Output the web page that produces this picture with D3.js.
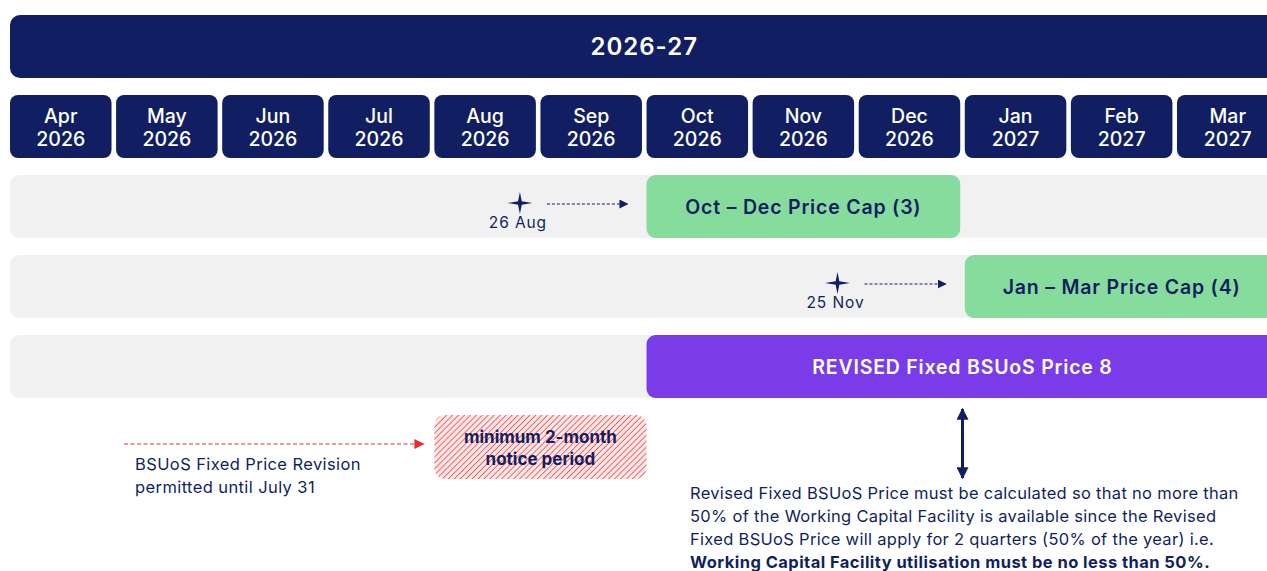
<!DOCTYPE html>
<html><head><meta charset="utf-8">
<script src="https://cdn.jsdelivr.net/npm/d3@7"></script>
<style>
body{margin:0;background:#fff;overflow:hidden}
svg{display:block;font-family:Inter,"Noto Sans",sans-serif}
</style>
</head><body>
<svg id="c" width="1267" height="571"></svg>
<script>
// ---------- data ----------
const fiscalYear = "2026-27";
const months = ["Apr","May","Jun","Jul","Aug","Sep","Oct","Nov","Dec","Jan","Feb","Mar"];
const monthYears = ["2026","2026","2026","2026","2026","2026","2026","2026","2026","2027","2027","2027"];
const monthDays = [30,31,30,31,31,30,31,30,31,31,28,31];

const rowLabels = ["Oct – Dec Price Cap (3)", "Jan – Mar Price Cap (4)", "REVISED Fixed BSUoS Price 8"];
const rowStartMonth = [6, 9, 6];
const rowEndMonth = [9, 12, 12];
const rowKinds = ["cap", "cap", "bsuos"];

const milestoneLabels = ["26 Aug", "25 Nov"];
const milestoneRow = [0, 1];
const milestoneMonth = [4, 7];
const milestoneDay = [26, 25];

const revisionDeadlineMonth = 4; // up to end of July
const revisionText = ["BSUoS Fixed Price Revision", "permitted until July 31"];
const noticeStartMonth = 4, noticeEndMonth = 6;
const noticeText = ["minimum 2-month", "notice period"];

const noteLines = [
  {t:"Revised Fixed BSUoS Price must be calculated so that no more than", b:false},
  {t:"50% of the Working Capital Facility is available since the Revised", b:false},
  {t:"Fixed BSUoS Price will apply for 2 quarters (50% of the year) i.e.", b:false},
  {t:"Working Capital Facility utilisation must be no less than 50%.", b:true}
];

// ---------- styles ----------
const NAVY = "#111f62", GREEN = "#86dc9c", PURPLE = "#7a3be8", GRAY = "#f1f1f1", RED = "#ea2a2a";

const svg = d3.select("#c");
const defs = svg.append("defs");

function marker(id, color, w, h) {
  defs.append("marker").attr("id", id).attr("viewBox", "0 0 10 10")
    .attr("refX", 9).attr("refY", 5).attr("markerUnits", "userSpaceOnUse")
    .attr("markerWidth", w).attr("markerHeight", h).attr("orient", "auto-start-reverse")
    .append("path").attr("d", "M0,0L10,5L0,10Z").attr("fill", color);
}
marker("arrNavy", NAVY, 9, 9);
marker("arrRed", RED, 10, 10);
marker("arrBig", NAVY, 13, 12);

const pat = defs.append("pattern").attr("id", "hatch").attr("patternUnits", "userSpaceOnUse")
  .attr("width", 4.2).attr("height", 4.2).attr("patternTransform", "rotate(45)");
pat.append("rect").attr("width", 4.2).attr("height", 4.2).attr("fill", "#fde6e6");
pat.append("line").attr("x1", 0).attr("y1", 0).attr("x2", 0).attr("y2", 4.2)
  .attr("stroke", "#f04a4a").attr("stroke-width", 1.6);

// ---------- scales ----------
const band = d3.scaleBand().domain(months).range([10, 1278.5]).paddingInner(0.043).paddingOuter(0);
const step = band.step(), gap = step - band.bandwidth();
const xm = d3.scaleLinear().domain([0, 12]).range([10, 10 + 12 * step]); // month-index position
const xDate = (m, d) => xm(m + (d - 1) / monthDays[m]);

const rowY = d3.scaleBand().domain(d3.range(rowLabels.length)).range([175, 398]).paddingInner(17 / 80).paddingOuter(0);

// ---------- year header ----------
svg.append("rect").attr("x", xm(0)).attr("y", 15).attr("width", xm(12) - gap - xm(0)).attr("height", 63)
  .attr("rx", 10).attr("fill", NAVY);
svg.append("text").attr("x", (xm(0) + xm(12) - gap) / 2).attr("y", 55).attr("text-anchor", "middle")
  .attr("fill", "#fff").attr("font-size", 24).attr("font-weight", 600).attr("letter-spacing", 1).text(fiscalYear);

// ---------- month tiles ----------
const mg = svg.selectAll("g.month").data(months).join("g").attr("class", "month")
  .attr("transform", d => `translate(${band(d)},95)`);
mg.append("rect").attr("width", band.bandwidth()).attr("height", 63).attr("rx", 8).attr("fill", NAVY);
mg.append("text").attr("x", band.bandwidth() / 2).attr("y", 28).attr("text-anchor", "middle")
  .attr("fill", "#fff").attr("font-size", 19.5).attr("font-weight", 500).text(d => d);
mg.append("text").attr("x", band.bandwidth() / 2).attr("y", 50.5).attr("text-anchor", "middle")
  .attr("fill", "#fff").attr("font-size", 19.5).attr("font-weight", 500).text((d, i) => monthYears[i]);

// ---------- rows ----------
const rows = rowLabels.map((l, i) => ({l, i, s: rowStartMonth[i], e: rowEndMonth[i], k: rowKinds[i]}));
svg.selectAll("rect.bg").data(rows).join("rect").attr("class", "bg")
  .attr("x", xm(0)).attr("y", d => rowY(d.i)).attr("width", 1300).attr("height", rowY.bandwidth())
  .attr("rx", 9).attr("fill", GRAY);
svg.selectAll("rect.bar").data(rows).join("rect").attr("class", "bar")
  .attr("x", d => xm(d.s)).attr("y", d => rowY(d.i))
  .attr("width", d => xm(d.e) - gap - xm(d.s)).attr("height", rowY.bandwidth())
  .attr("rx", 9).attr("fill", d => d.k === "cap" ? GREEN : PURPLE);
svg.selectAll("text.bar").data(rows).join("text").attr("class", "bar")
  .attr("x", d => (xm(d.s) + xm(d.e) - gap) / 2).attr("y", d => rowY(d.i) + rowY.bandwidth() / 2 + 7)
  .attr("text-anchor", "middle").attr("font-size", 19.5).attr("font-weight", 600).attr("letter-spacing", 0.8)
  .attr("fill", d => d.k === "cap" ? NAVY : "#fff").text(d => d.l);

// ---------- milestones ----------
const starPts = [];
for (let k = 0; k < 8; k++) {
  const a = k * Math.PI / 4;
  const outer = k % 2 === 0;
  const rx = outer ? 12.5 : 2.6, ry = outer ? 11 : 2.6;
  starPts.push([Math.sin(a) * rx, -Math.cos(a) * ry]);
}
const starPath = d3.line().curve(d3.curveLinearClosed)(starPts);

const ms = milestoneLabels.map((l, i) => ({l, r: milestoneRow[i], x: xDate(milestoneMonth[i], milestoneDay[i])}));
const mgs = svg.selectAll("g.ms").data(ms).join("g").attr("class", "ms")
  .attr("transform", d => `translate(${d.x},${rowY(d.r) + 28})`);
mgs.append("path").attr("d", starPath).attr("fill", NAVY);
mgs.append("text").attr("x", -2).attr("y", 25).attr("text-anchor", "middle").attr("font-size", 15.5)
  .attr("letter-spacing", 0.9).attr("fill", NAVY).text(d => d.l);
mgs.append("line").attr("x1", 27).attr("y1", 1).attr("x2", d => xm(rowStartMonth[d.r]) - 19 - d.x).attr("y2", 1)
  .attr("stroke", NAVY).attr("stroke-width", 1.2).attr("stroke-dasharray", "3,2")
  .attr("marker-end", "url(#arrNavy)");

// ---------- revision deadline ----------
svg.append("line").attr("x1", 124).attr("y1", 444).attr("x2", xm(revisionDeadlineMonth) - 11).attr("y2", 444)
  .attr("stroke", RED).attr("stroke-width", 1.2).attr("stroke-dasharray", "4,2.5")
  .attr("marker-end", "url(#arrRed)");
svg.selectAll("text.rev").data(revisionText).join("text").attr("class", "rev")
  .attr("x", 135).attr("y", (d, i) => 470 + i * 23).attr("font-size", 16.5).attr("letter-spacing", 0.4)
  .attr("fill", NAVY).text(d => d);

// ---------- notice period ----------
svg.append("rect").attr("x", xm(noticeStartMonth)).attr("y", 415)
  .attr("width", xm(noticeEndMonth) - xm(noticeStartMonth)).attr("height", 64)
  .attr("rx", 11).attr("fill", "url(#hatch)");
svg.selectAll("text.notice").data(noticeText).join("text").attr("class", "notice")
  .attr("x", (xm(noticeStartMonth) + xm(noticeEndMonth)) / 2).attr("y", (d, i) => 443 + i * 22)
  .attr("text-anchor", "middle").attr("font-size", 17).attr("font-weight", 700)
  .attr("fill", NAVY).text(d => d);

// ---------- vertical double arrow ----------
const purple = rows[2];
const ax = (xm(purple.s) + xm(purple.e) - gap) / 2;
svg.append("line").attr("x1", ax).attr("y1", 409).attr("x2", ax).attr("y2", 478)
  .attr("stroke", NAVY).attr("stroke-width", 3)
  .attr("marker-start", "url(#arrBig)").attr("marker-end", "url(#arrBig)");

// ---------- note ----------
svg.selectAll("text.note").data(noteLines).join("text").attr("class", "note")
  .attr("x", 690).attr("y", (d, i) => 499 + i * 23).attr("font-size", 16.5)
  .attr("letter-spacing", d => d.b ? 0.45 : 0.3)
  .attr("font-weight", d => d.b ? 700 : 400).attr("fill", NAVY).text(d => d.t);
</script>
</body></html>
